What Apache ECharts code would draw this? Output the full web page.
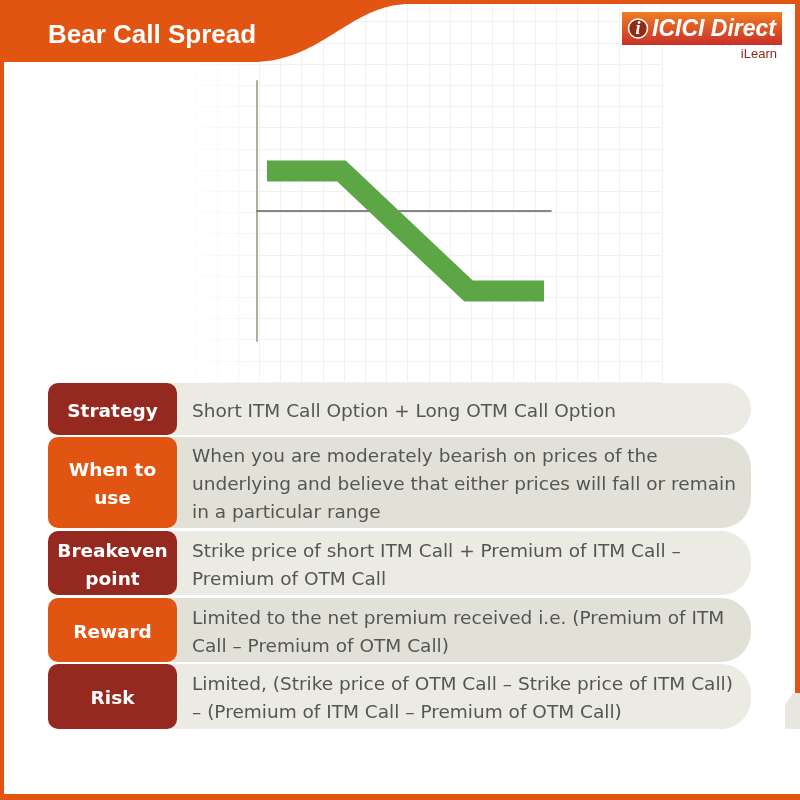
<!DOCTYPE html>
<html>
<head>
<meta charset="utf-8">
<script src="https://cdn.jsdelivr.net/npm/echarts@6/dist/echarts.min.js"></script>
<style>
html,body{margin:0;padding:0;background:#fff;}
#chart{width:800px;height:800px;}
</style>
</head>
<body>
<div id="chart"></div>
<script>
// ---- data ----
const title = 'Bear Call Spread';
const payoffX = [1, 8.45, 21.15, 28.7];
const payoffY = [4, 4, -8, -8];
const rowLabels = ['Strategy', 'When to\nuse', 'Breakeven\npoint', 'Reward', 'Risk'];
const rowTexts = [
  'Short ITM Call Option + Long OTM Call Option',
  'When you are moderately bearish on prices of the\nunderlying and believe that either prices will fall or remain\nin a particular range',
  'Strike price of short ITM Call + Premium of ITM Call \u2013\nPremium of OTM Call',
  'Limited to the net premium received i.e. (Premium of ITM\nCall \u2013 Premium of OTM Call)',
  'Limited, (Strike price of OTM Call \u2013 Strike price of ITM Call)\n\u2013 (Premium of ITM Call \u2013 Premium of OTM Call)'
];
const brandName = 'ICICI Direct';
const brandSub = 'iLearn';

// ---- styles ----
const ORANGE = '#e25411';
const DARKRED = '#95281f';
const labelColors = [DARKRED, ORANGE, DARKRED, ORANGE, DARKRED];
const pillColors = ['#ebeae3', '#e2e1d7', '#ebeae3', '#e2e1d7', '#ebeae3'];
const rowTops = [383, 437, 531, 598, 664];
const rowHeights = [52, 91, 64, 64, 65];

function lin(x2, y2, stops) {
  return {type:'linear', x:0, y:0, x2:x2, y2:y2, colorStops: stops.map(s => ({offset:s[0], color:s[1]})), global:false};
}
// header outline: straight edges plus a sampled cubic S-curve
function headerPoints() {
  const pts = [[0,0],[800,0],[800,4]];
  const p0=[410,4], p1=[350,4], p2=[322,62], p3=[252,62];
  for (let k = 0; k <= 40; k++) {
    const t = k / 40, u = 1 - t;
    pts.push([
      u*u*u*p0[0] + 3*u*u*t*p1[0] + 3*u*t*t*p2[0] + t*t*t*p3[0],
      u*u*u*p0[1] + 3*u*u*t*p1[1] + 3*u*t*t*p2[1] + t*t*t*p3[1]
    ]);
  }
  pts.push([0,62]);
  return pts;
}

const chart = echarts.init(document.getElementById('chart'), null, {renderer: 'canvas'});

const graphics = [];
// background fade on left of grid
graphics.push({type:'rect', z:1, shape:{x:150, y:0, width:125, height:390},
  style:{fill:lin(1, 0, [[0,'rgba(255,255,255,1)'],[0.3,'rgba(255,255,255,0.85)'],[1,'rgba(255,255,255,0)']])}});
// header shape
graphics.push({type:'polygon', z:10, shape:{points:headerPoints()}, style:{fill:ORANGE}});
// borders
graphics.push({type:'rect', z:10, shape:{x:0, y:0, width:4, height:800}, style:{fill:ORANGE}});
graphics.push({type:'rect', z:10, shape:{x:0, y:794, width:800, height:6}, style:{fill:ORANGE}});
graphics.push({type:'rect', z:10, shape:{x:795, y:0, width:5, height:693}, style:{fill:ORANGE}});
graphics.push({type:'polygon', z:10, shape:{points:[[785,705],[793,693],[800,693],[800,729],[785,729]]}, style:{fill:'#e8e7e1'}});
// title
graphics.push({type:'text', z:11, x:48, y:36, style:{text:title, fill:'#fff', font:'bold 26px "Liberation Sans", Arial, sans-serif', textAlign:'left', align:'left', textVerticalAlign:'middle', verticalAlign:'middle'}});
// logo
graphics.push({type:'rect', z:11, shape:{x:622, y:12, width:160, height:33},
  style:{fill:lin(0, 1, [[0,'#f07d22'],[1,'#c9302a']])}});
graphics.push({type:'circle', z:12, shape:{cx:638, cy:28.5, r:9.5}, style:{fill:'#8e2d14', stroke:'#fff', lineWidth:1.5}});
graphics.push({type:'text', z:13, x:638, y:29, style:{text:'i', fill:'#fff', font:'italic bold 18px "Liberation Serif", serif', textAlign:'center', align:'center', textVerticalAlign:'middle', verticalAlign:'middle'}});
graphics.push({type:'text', z:12, x:776, y:30, style:{text:brandName, fill:'#fff', font:'italic bold 23px "Liberation Sans", Arial, sans-serif', textAlign:'right', align:'right', textVerticalAlign:'middle', verticalAlign:'middle'}});
graphics.push({type:'text', z:12, x:777, y:54, style:{text:brandSub, fill:'#8a2a1c', font:'13px "Liberation Sans", Arial, sans-serif', textAlign:'right', align:'right', textVerticalAlign:'middle', verticalAlign:'middle'}});

// table
for (let i = 0; i < rowLabels.length; i++) {
  const top = rowTops[i], h = rowHeights[i];
  const r = Math.min(30, h / 2);
  graphics.push({type:'rect', z:10, shape:{x:160, y:top, width:591, height:h, r:[0, r, r, 0]}, style:{fill:pillColors[i]}});
  graphics.push({type:'rect', z:11, shape:{x:48, y:top, width:129, height:h, r:10}, style:{fill:labelColors[i]}});
  graphics.push({type:'text', z:12, x:112.5, y:top + h / 2 + 3, style:{text:rowLabels[i], fill:'#fff', font:'bold 18.5px "DejaVu Sans", sans-serif', lineHeight:28, textAlign:'center', align:'center', textVerticalAlign:'middle', verticalAlign:'middle'}});
  graphics.push({type:'text', z:12, x:192, y:top + h / 2 + 3, style:{text:rowTexts[i], fill:'#555', font:'18.5px "DejaVu Sans", sans-serif', lineHeight:28, textAlign:'left', align:'left', textVerticalAlign:'middle', verticalAlign:'middle'}});
}

const option = {
  animation: false,
  backgroundColor: '#fff',
  grid: [
    {left: 174.5, top: 0.4, width: 487.6, height: 381.6},
    {left: 257, top: 81, width: 294, height: 260}
  ],
  xAxis: [
    {gridIndex:0, type:'value', min:0, max:23, interval:1, z:0, axisLine:{show:false}, axisTick:{show:false}, axisLabel:{show:false}, splitLine:{show:true, lineStyle:{color:'#f0f2f2', width:1}}},
    {gridIndex:1, type:'value', min:0, max:29.4, z:3, axisLine:{show:true, onZero:true, lineStyle:{color:'#5f5f5f', width:1.5}}, axisTick:{show:false}, axisLabel:{show:false}, splitLine:{show:false}}
  ],
  yAxis: [
    {gridIndex:0, type:'value', min:0, max:18, interval:1, z:0, axisLine:{show:false}, axisTick:{show:false}, axisLabel:{show:false}, splitLine:{show:true, lineStyle:{color:'#f0f2f2', width:1}}},
    {gridIndex:1, type:'value', min:-13, max:13, z:3, axisLine:{show:true, onZero:false, lineStyle:{color:'#b2ae9c', width:2}}, axisTick:{show:false}, axisLabel:{show:false}, splitLine:{show:false}}
  ],
  series: [{
    type: 'line',
    xAxisIndex: 1,
    yAxisIndex: 1,
    z: 4,
    symbol: 'none',
    silent: true,
    data: payoffX.map((x, i) => [x, payoffY[i]]),
    lineStyle: {color: '#5ca645', width: 21, cap: 'butt', join: 'miter'}
  }],
  graphic: graphics
};
chart.setOption(option);
</script>
</body>
</html>
